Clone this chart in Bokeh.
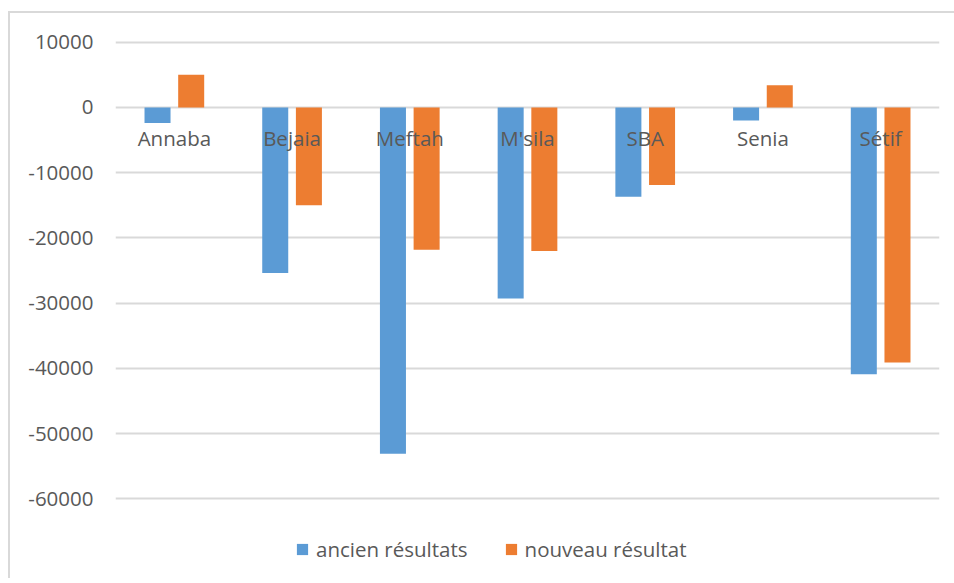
from bokeh.plotting import figure
from bokeh.core.properties import value
from bokeh.models import (ColumnDataSource, FactorRange, Range1d, FixedTicker,
                          NumeralTickFormatter, Legend, LegendItem)
from bokeh.transform import dodge
from bokeh.embed import file_html
from bokeh.resources import INLINE

# Data
cities = ["Annaba", "Bejaia", "Meftah", "M'sila", "SBA", "Senia", "Sétif"]
ancien = [-2400, -25400, -53100, -29300, -13700, -2000, -40900]
nouveau = [5000, -15000, -21800, -22000, -11900, 3400, -39100]
y_ticks = [10000, 0, -10000, -20000, -30000, -40000, -50000, -60000]

BLUE = "#5B9BD5"
ORANGE = "#ED7D31"
GRID = "#D9D9D9"
TEXT = "#595959"
FONT = "Open Sans"
FS = "20.5px"

source = ColumnDataSource(dict(city=cities, ancien=ancien, nouveau=nouveau,
                               zero=[0] * len(cities)))

# The frame runs past the last gridline so the legend can sit inside it
p = figure(
    x_range=FactorRange(*cities, range_padding=0),
    y_range=Range1d(-72200, 10250),
    frame_width=824, frame_height=538,
    x_axis_location=None,
    min_border_left=105, min_border_right=15,
    min_border_top=27, min_border_bottom=0,
    margin=(11, 0, 0, 8),
    output_backend="svg", toolbar_location=None,
    styles={"border-top": f"2px solid {GRID}", "border-left": f"2px solid {GRID}"},
)
p.outline_line_color = None
p.background_fill_color = "white"
p.border_fill_color = "white"

r_old = p.vbar(x=dodge("city", -0.143, range=p.x_range), top="ancien", bottom=0,
               width=0.221, source=source, fill_color=BLUE, line_color=None)
r_new = p.vbar(x=dodge("city", 0.143, range=p.x_range), top="nouveau", bottom=0,
               width=0.221, source=source, fill_color=ORANGE, line_color=None)

# Category names hang just under the zero line, on top of the bars
p.text(x="city", y="zero", text="city", source=source,
       y_offset=31, text_align="center", text_baseline="middle",
       text_font=value(FONT), text_font_size=value(FS), text_color=TEXT)

ya = p.yaxis[0]
ya.ticker = FixedTicker(ticks=y_ticks)
ya.formatter = NumeralTickFormatter(format="0")
ya.axis_line_color = None
ya.major_tick_line_color = None
ya.minor_tick_line_color = None
ya.major_label_standoff = 16
ya.major_label_text_font = FONT
ya.major_label_text_font_size = FS
ya.major_label_text_color = TEXT

p.xgrid.grid_line_color = None
p.ygrid.grid_line_color = GRID
p.ygrid.grid_line_width = 2
p.ygrid.ticker = FixedTicker(ticks=y_ticks)

legend = Legend(
    items=[LegendItem(label="ancien résultats", renderers=[r_old]),
           LegendItem(label="nouveau résultat", renderers=[r_new])],
    orientation="horizontal", location=(180, 15),
    glyph_width=14, glyph_height=14, label_standoff=7, spacing=36,
    padding=0, margin=0,
    label_text_font=FONT, label_text_font_size=FS, label_text_color=TEXT,
    border_line_color=None, background_fill_alpha=0,
)
p.add_layout(legend, "center")

open("out.html", "w").write(file_html(p, INLINE))
